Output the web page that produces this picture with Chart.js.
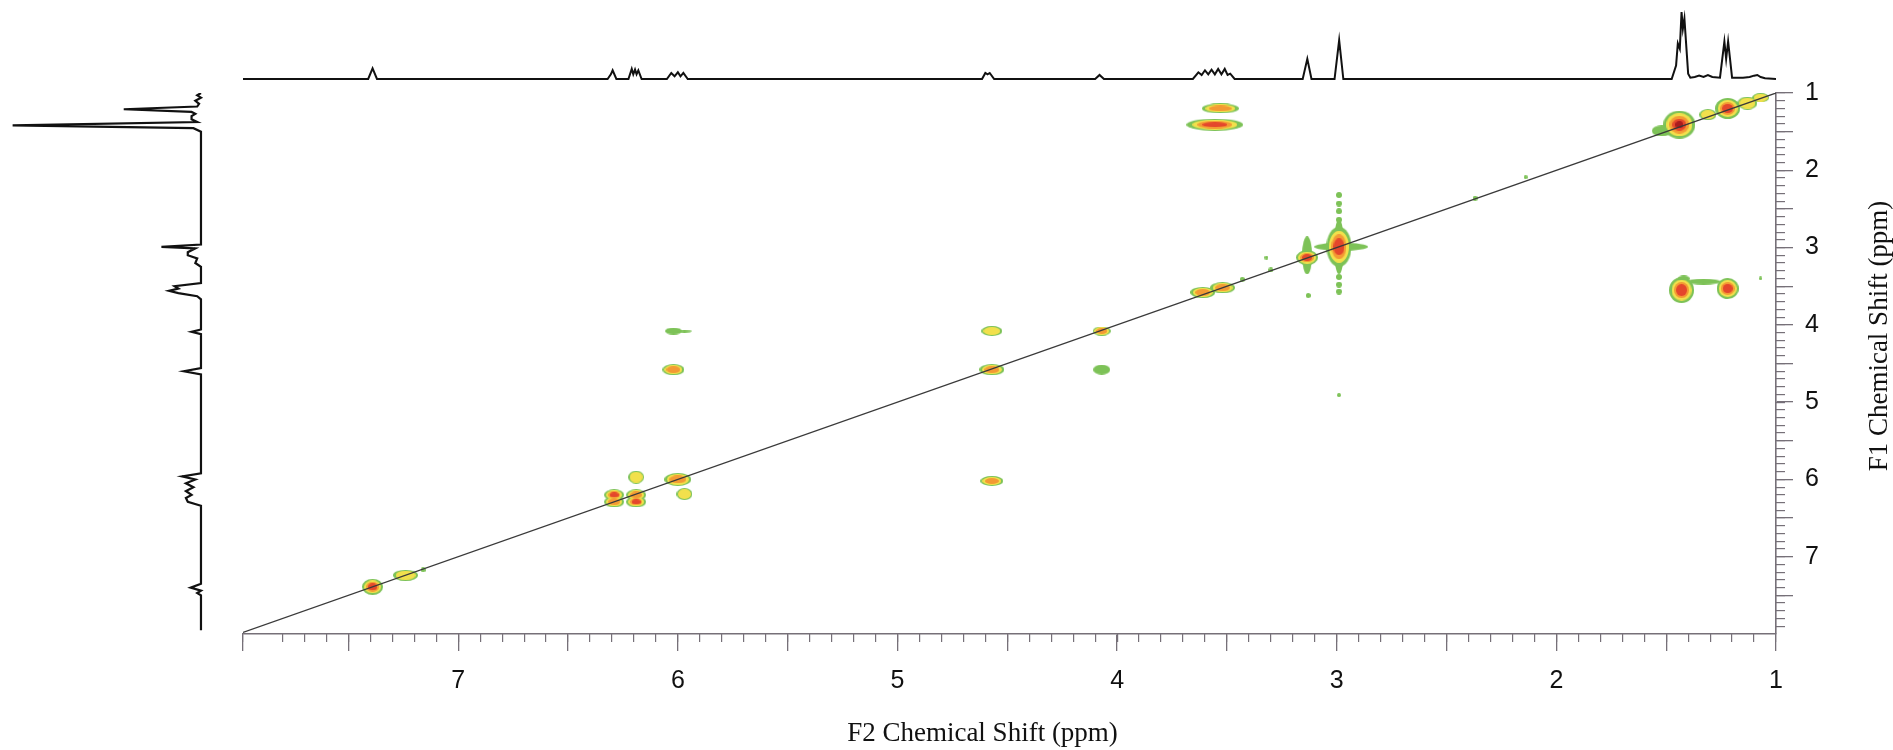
<!DOCTYPE html>
<html>
<head>
<meta charset="utf-8">
<title>COSY spectrum</title>
<script src="https://cdn.jsdelivr.net/npm/chart.js@4.4.1/dist/chart.umd.min.js"></script>
<style>
  html, body { margin: 0; padding: 0; background: #fff; }
  #wrap { position: relative; width: 1893px; height: 750px; overflow: hidden; }
  #main { position: absolute; left: 0; top: 0; }
  #top { position: absolute; left: 243px; top: 0; }
  #side { position: absolute; left: 0; top: 93px; }
</style>
</head>
<body>
<div id="wrap">
  <canvas id="main" width="1893" height="750"></canvas>
  <canvas id="top" width="1533" height="92"></canvas>
  <canvas id="side" width="220" height="541"></canvas>
</div>
<script>
// axis ranges (ppm) and titles
const f2Range = [1, 7.98];
const f1Range = [1, 8];
const xTitle = "F2 Chemical Shift (ppm)";
const yTitle = "F1 Chemical Shift (ppm)";

// 2D peaks: F2 / F1 position (ppm), contour extent (ppm), number of contour levels
const peakF2 = [7.39, 7.24, 7.16, 6.29, 6.29, 6.19, 6.19, 6.19, 6.00, 5.97, 6.02, 5.97, 6.02,
  4.57, 4.57, 4.57, 4.07, 4.07, 3.53, 3.555, 3.61, 3.52, 3.43, 3.30, 3.32, 3.135, 3.135, 3.13,
  2.99, 2.98, 2.99, 2.99, 2.99, 2.99, 2.99, 2.99, 2.99, 2.99, 2.99, 2.37, 2.14,
  1.44, 1.52, 1.31, 1.22, 1.13, 1.07, 1.43, 1.42, 1.22, 1.33, 1.07];
const peakF1 = [7.39, 7.24, 7.17, 6.20, 6.29, 6.20, 6.29, 5.97, 6.00, 6.19, 4.08, 4.08, 4.58,
  4.08, 4.58, 6.02, 4.08, 4.58, 1.20, 1.41, 3.58, 3.52, 3.41, 3.29, 3.13, 3.13, 3.10, 3.62,
  2.99, 2.99, 2.99, 2.32, 2.43, 2.53, 2.64, 3.38, 3.48, 3.57, 4.91, 2.36, 2.09,
  1.41, 1.49, 1.28, 1.20, 1.13, 1.06, 3.55, 3.40, 3.53, 3.44, 3.40];
const peakW = [0.085, 0.10, 0.02, 0.08, 0.08, 0.08, 0.08, 0.065, 0.11, 0.065, 0.07, 0.06, 0.09,
  0.085, 0.10, 0.095, 0.075, 0.07, 0.15, 0.23, 0.10, 0.10, 0.02, 0.02, 0.015, 0.09, 0.04, 0.02,
  0.10, 0.22, 0.04, 0.025, 0.025, 0.025, 0.025, 0.025, 0.025, 0.025, 0.015, 0.02, 0.015,
  0.13, 0.08, 0.07, 0.10, 0.08, 0.07, 0.10, 0.05, 0.09, 0.14, 0.012];
const peakH = [0.17, 0.12, 0.05, 0.12, 0.12, 0.12, 0.12, 0.14, 0.14, 0.13, 0.07, 0.035, 0.12,
  0.11, 0.12, 0.11, 0.10, 0.11, 0.11, 0.13, 0.12, 0.12, 0.05, 0.05, 0.04, 0.16, 0.40, 0.05,
  0.42, 0.09, 0.58, 0.06, 0.06, 0.06, 0.06, 0.06, 0.06, 0.06, 0.04, 0.05, 0.04,
  0.30, 0.12, 0.12, 0.22, 0.14, 0.10, 0.28, 0.06, 0.22, 0.06, 0.04];
const peakLevel = [4, 2, 1, 4, 3, 3, 4, 2, 3, 2, 1, 1, 3,
  2, 3, 3, 3, 1, 3, 4, 3, 3, 1, 1, 1, 4, 1, 1,
  4, 1, 1, 1, 1, 1, 1, 1, 1, 1, 1, 1, 1,
  5, 1, 2, 4, 2, 2, 4, 1, 4, 1, 1];

// 1D projection on top (F2): ppm / relative intensity
const topPpm = [7.98, 7.41, 7.39, 7.37, 6.32, 6.305, 6.297, 6.28, 6.225, 6.21, 6.203, 6.195, 6.188, 6.18, 6.165,
  6.05, 6.03, 6.015, 6.00, 5.988, 5.975, 5.955, 4.615, 4.60, 4.59, 4.58, 4.56, 4.10, 4.08, 4.06,
  3.655, 3.63, 3.615, 3.60, 3.585, 3.57, 3.555, 3.54, 3.525, 3.51, 3.497, 3.485, 3.465,
  3.155, 3.134, 3.115, 3.01, 2.989, 2.97, 1.475, 1.455, 1.447, 1.438, 1.43, 1.424, 1.417, 1.40, 1.39,
  1.37, 1.35, 1.33, 1.31, 1.29, 1.255, 1.235, 1.227, 1.218, 1.20, 1.15, 1.12, 1.10, 1.085, 1.07, 1.05, 1.00];
const topInt = [0, 0, 16, 0, 0, 7, 13, 0, 0, 15, 7, 14, 7, 13, 0,
  0, 9, 4, 10, 4, 9, 0, 0, 9, 7, 9, 0, 0, 6, 0,
  0, 10, 6, 13, 7, 14, 7, 15, 7, 15, 6, 8, 0,
  0, 30, 0, 0, 58, 0, 0, 20, 53, 45, 100, 75, 90, 8, 2,
  3, 5, 3, 6, 3, 2, 56, 30, 56, 2, 2, 3, 5, 6, 3, 1, 0];

// 1D projection on the left (F1)
const sidePpm = [1.00, 1.03, 1.06, 1.10, 1.14, 1.175, 1.21, 1.245, 1.27, 1.30, 1.34, 1.375, 1.42, 1.455, 1.50,
  2.96, 2.99, 3.01, 3.06, 3.10, 3.14, 3.20, 3.25, 3.46, 3.50, 3.53, 3.56, 3.59, 3.63, 3.67,
  4.06, 4.09, 4.12, 4.56, 4.60, 4.64, 5.92, 5.96, 6.00, 6.05, 6.10, 6.15, 6.20, 6.24, 6.29, 6.34,
  7.35, 7.40, 7.44, 7.47, 7.50, 7.95];
const sideInt = [0, 2, 0, 3, 1, 2, 41, 5, 3, 5, 5, 2, 100, 4, 0,
  0, 21, 3, 7, 7, 2, 3, 0, 0, 14, 12, 17, 12, 2, 0,
  0, 5, 0, 0, 9, 0, 0, 10, 3, 8, 4, 8, 5, 8, 7, 0,
  0, 5.5, 0, 2, 0, 0];

const levelColors = ["#7dc257", "#f2e04c", "#f39a34", "#e4472c", "#a91c1e"];
const levelScale = [1, 0.8, 0.62, 0.44, 0.26];
const growX = 1.12;
const growY = 1.22;
const axisGray = "#767078";
const labelFont = { family: "'Liberation Sans', Arial, sans-serif", size: 25 };

// filled ellipse used as point image for one contour level
const blobCache = {};
const blob = (wpx, hpx, color) => {
  const w = Math.max(2, Math.round(wpx));
  const h = Math.max(2, Math.round(hpx));
  const key = w + "x" + h + color;
  if (blobCache[key]) return blobCache[key];
  const c = document.createElement("canvas");
  c.width = w;
  c.height = h;
  const g = c.getContext("2d");
  g.fillStyle = color;
  g.beginPath();
  g.ellipse(w / 2, h / 2, w / 2, h / 2, 0, 0, Math.PI * 2);
  g.fill();
  blobCache[key] = c;
  return c;
};

const peaks = peakF2.map((x, i) => ({ x, y: peakF1[i], w: peakW[i], h: peakH[i], lv: peakLevel[i] }));

const peakDatasets = levelColors.map((color, lv) => ({
  type: "scatter",
  data: peaks.filter((p) => p.lv > lv),
  pointRadius: 2,
  order: 10 - lv,
  pointStyle: (ctx) => {
    const p = ctx.raw;
    if (!p) return "circle";
    const sx = ctx.chart.scales.x;
    const sy = ctx.chart.scales.y;
    const wpx = Math.abs(sx.getPixelForValue(p.x + p.w / 2) - sx.getPixelForValue(p.x - p.w / 2));
    const hpx = Math.abs(sy.getPixelForValue(p.y + p.h / 2) - sy.getPixelForValue(p.y - p.h / 2));
    return blob(wpx * growX * levelScale[lv], hpx * growY * levelScale[lv], color);
  },
}));

// axis titles (the F1 title reads bottom to top)
const axisTitles = {
  id: "axisTitles",
  afterDraw(chart) {
    const { ctx, chartArea } = chart;
    ctx.save();
    ctx.font = "27px 'Liberation Serif', 'Times New Roman', serif";
    ctx.fillStyle = "#111";
    ctx.textAlign = "center";
    ctx.textBaseline = "middle";
    ctx.fillText(xTitle, (chartArea.left + chartArea.right) / 2 - 27, 734);
    ctx.translate(1880, 336);
    ctx.rotate(-Math.PI / 2);
    ctx.fillText(yTitle, 0, 0);
    ctx.restore();
  },
};

const xLabel = (v) => (Number.isInteger(v) ? String(v) : "");
const yLabel = (v) => (Number.isInteger(v) && v < f1Range[1] ? String(v) : "");
const yTickColor = (ctx) => (ctx.tick && ctx.tick.value >= f1Range[1] ? "rgba(0,0,0,0)" : axisGray);

new Chart(document.getElementById("main"), {
  type: "scatter",
  data: {
    datasets: [
      {
        type: "line",
        data: [{ x: f2Range[1], y: f2Range[1] }, { x: f2Range[0], y: f1Range[0] }],
        borderColor: "#3a3a3a",
        borderWidth: 1.3,
        pointRadius: 0,
        order: 0,
      },
      ...peakDatasets,
    ],
  },
  options: {
    responsive: false,
    animation: false,
    events: [],
    layout: { padding: { left: 243, top: 93, right: 0, bottom: 0 } },
    plugins: { legend: { display: false }, tooltip: { enabled: false } },
    scales: {
      xMinor: {
        type: "linear",
        position: "bottom",
        weight: 0,
        reverse: true,
        min: f2Range[0],
        max: f2Range[1],
        afterFit: (s) => { s.height = 0; },
        grid: { drawOnChartArea: false, tickLength: 8, color: axisGray, lineWidth: 1.2 },
        border: { display: false },
        ticks: { display: false, stepSize: 0.1, autoSkip: false },
      },
      x: {
        type: "linear",
        position: "bottom",
        weight: 1,
        reverse: true,
        min: f2Range[0],
        max: f2Range[1],
        afterFit: (s) => { s.height = 116; },
        grid: { drawOnChartArea: false, tickLength: 17, color: axisGray, lineWidth: 1.3 },
        border: { color: axisGray, width: 1.6 },
        ticks: { stepSize: 0.5, autoSkip: false, maxRotation: 0, padding: 15, color: "#111", font: labelFont, callback: xLabel },
      },
      yMinor: {
        type: "linear",
        position: "right",
        weight: 0,
        reverse: true,
        min: f1Range[0],
        max: f1Range[1],
        afterFit: (s) => { s.width = 0; },
        grid: { drawOnChartArea: false, tickLength: 9, color: yTickColor, lineWidth: 1.2 },
        border: { display: false },
        ticks: { display: false, stepSize: 0.1, autoSkip: false },
      },
      y: {
        type: "linear",
        position: "right",
        weight: 1,
        reverse: true,
        min: f1Range[0],
        max: f1Range[1],
        afterFit: (s) => { s.width = 117; },
        grid: { drawOnChartArea: false, tickLength: 17, color: yTickColor, lineWidth: 1.3 },
        border: { color: axisGray, width: 1.6 },
        ticks: { stepSize: 0.5, autoSkip: false, padding: 12, color: "#111", font: labelFont, callback: yLabel },
      },
    },
  },
  plugins: [axisTitles],
});

// top 1D spectrum
new Chart(document.getElementById("top"), {
  type: "scatter",
  data: {
    datasets: [{
      data: topPpm.map((x, i) => ({ x, y: topInt[i] })),
      showLine: true,
      borderColor: "#111",
      borderWidth: 2,
      pointRadius: 0,
    }],
  },
  options: {
    responsive: false,
    animation: false,
    events: [],
    plugins: { legend: { display: false }, tooltip: { enabled: false } },
    scales: {
      x: { display: false, reverse: true, min: f2Range[0], max: f2Range[1] },
      y: { display: false, min: -19.4, max: 117.9 },
    },
  },
});

// left 1D spectrum (peaks point to the left)
new Chart(document.getElementById("side"), {
  type: "scatter",
  data: {
    datasets: [{
      data: sidePpm.map((y, i) => ({ x: sideInt[i], y })),
      showLine: true,
      borderColor: "#111",
      borderWidth: 2.2,
      pointRadius: 0,
    }],
  },
  options: {
    responsive: false,
    animation: false,
    events: [],
    plugins: { legend: { display: false }, tooltip: { enabled: false } },
    scales: {
      x: { display: false, reverse: true, min: -10.1, max: 106.7 },
      y: { display: false, reverse: true, min: f1Range[0], max: f1Range[1] },
    },
  },
});
</script>
</body>
</html>
